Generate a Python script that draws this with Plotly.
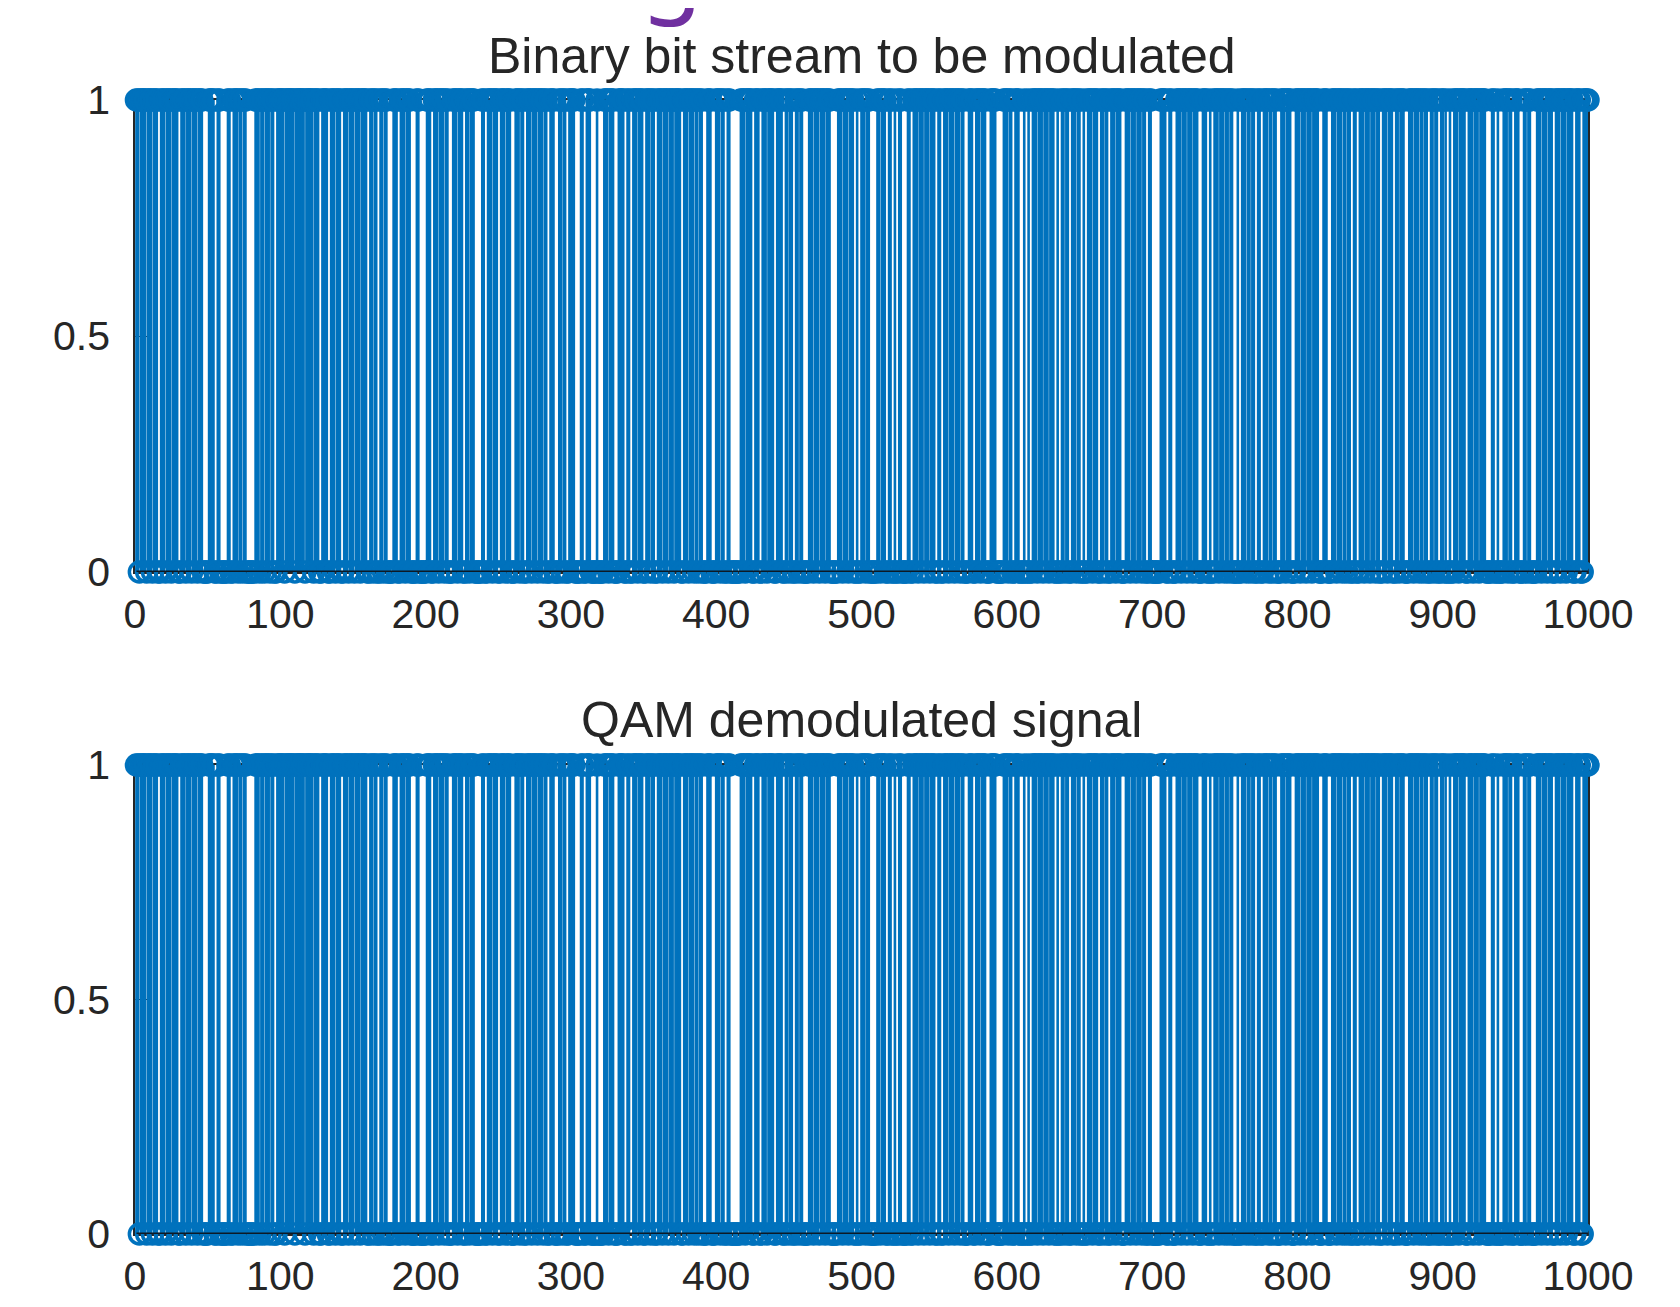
import plotly.graph_objects as go
from plotly.subplots import make_subplots

# ---------------- data ----------------
n_bits = 1000
# runs of zeros (1-based, inclusive) visible as light/white gaps in the stems
zero_runs = [
    (16, 17), (30, 31), (47, 50), (55, 56), (59, 63), (66, 67), (77, 82), (96, 97),
    (127, 128), (133, 134), (142, 143), (160, 161), (167, 168), (174, 177), (181, 182),
    (190, 193), (196, 200), (204, 205), (216, 218), (226, 227), (234, 238), (241, 242),
    (250, 251), (259, 261), (268, 269), (284, 285), (289, 291), (297, 298), (303, 306),
    (309, 310), (314, 317), (319, 322), (330, 332), (337, 338), (341, 342), (350, 351),
    (358, 359), (376, 377), (391, 393), (397, 399), (406, 407), (410, 416), (425, 426),
    (430, 431), (440, 441), (446, 447), (453, 454), (460, 463), (479, 483), (495, 496),
    (498, 499), (506, 510), (517, 518), (521, 522), (524, 525), (528, 531), (534, 535),
    (551, 552), (555, 556), (571, 573), (577, 578), (586, 588), (593, 597), (604, 605),
    (609, 611), (613, 614), (616, 617), (633, 634), (636, 637), (643, 644), (651, 652),
    (654, 655), (663, 664), (670, 671), (679, 681), (696, 697), (700, 705), (710, 711),
    (714, 716), (732, 734), (738, 739), (741, 742), (756, 758), (760, 761), (771, 772),
    (775, 776), (786, 788), (796, 798), (815, 817), (821, 823), (837, 838), (841, 842),
    (857, 858), (866, 867), (874, 876), (890, 891), (897, 898), (901, 901), (903, 904),
    (906, 907), (916, 917), (930, 933), (936, 937), (939, 941), (948, 949), (953, 955),
    (961, 964), (976, 977), (990, 991), (995, 996),
]
# isolated zeros hidden under neighbouring stems (estimated from the solid band of
# circles along y = 0)
single_zeros = [
    3, 8, 12, 21, 25, 35, 39, 43, 71, 74, 86, 89, 93, 103, 110, 117, 123, 138, 147, 151,
    155, 164, 171, 186, 209, 213, 222, 230, 246, 255, 265, 273, 277, 281, 294, 326, 346,
    355, 363, 367, 371, 381, 385, 388, 403, 420, 435, 450, 457, 467, 471, 475, 487, 491,
    503, 513, 539, 543, 547, 560, 564, 568, 582, 601, 621, 625, 629, 640, 648, 659, 667,
    675, 685, 689, 693, 720, 724, 728, 746, 750, 753, 765, 768, 780, 783, 792, 802, 806,
    810, 827, 831, 834, 846, 850, 854, 862, 870, 880, 884, 887, 894, 911, 921, 925, 945,
    958, 968, 972, 981, 985,
]
tx_bits = [1] * n_bits
for a, b in zero_runs:
    for i in range(a, b + 1):
        tx_bits[i - 1] = 0
for i in single_zeros:
    tx_bits[i - 1] = 0
rx_bits = list(tx_bits)  # demodulated signal equals the transmitted stream

x_tick_vals = [0, 100, 200, 300, 400, 500, 600, 700, 800, 900, 1000]
y_tick_vals = [0, 0.5, 1]
y_tick_text = ["0", "0.5", "1"]
panel_titles = ["Binary bit stream to be modulated", "QAM demodulated signal"]

# ---------------- styling ----------------
BLUE = "#0072BD"
TXT = "#262626"
FONT = "Liberation Sans, Arial, sans-serif"
OFF = 8                      # the page body has an 8 px margin
W, H = 1680 - OFF, 1307 - OFF
L, R = 135 - OFF, 92

fig = make_subplots(rows=2, cols=1)


def add_stem(bits, row):
    idx = list(range(1, len(bits) + 1))
    xs, ys = [], []
    for i, b in zip(idx, bits):
        if b:
            xs += [i, i, None]
            ys += [0, b, None]
    fig.add_trace(go.Scatter(x=xs, y=ys, mode="lines",
                             line=dict(color=BLUE, width=2.6),
                             hoverinfo="skip", showlegend=False,
                             cliponaxis=False), row=row, col=1)
    fig.add_trace(go.Scatter(x=idx, y=bits, mode="markers",
                             marker=dict(symbol="circle-open", size=20,
                                         color=BLUE, line=dict(width=3.5, color=BLUE)),
                             showlegend=False, cliponaxis=False), row=row, col=1)
    fig.add_trace(go.Scatter(x=[1, len(bits)], y=[0, 0], mode="lines",
                             line=dict(color="#0d1a26", width=3),
                             hoverinfo="skip", showlegend=False,
                             cliponaxis=False), row=row, col=1)


add_stem(tx_bits, 1)
add_stem(rx_bits, 2)

axis_common = dict(showline=True, mirror=True, linecolor=TXT, linewidth=1.5,
                   ticks="inside", ticklen=12, tickcolor=TXT, showgrid=False,
                   zeroline=False, automargin=False, layer="below traces",
                   tickfont=dict(family=FONT, size=41, color=TXT))

# pixel positions (in the window) of the plot areas
top_y = (100, 572)
bot_y = (765, 1234)


def dom(p):
    return [1 - (p[1] - OFF) / H, 1 - (p[0] - OFF) / H]


for r, py in ((1, top_y), (2, bot_y)):
    fig.update_xaxes(range=[0, 1000], tickvals=x_tick_vals, ticklabelstandoff=5,
                     domain=[0, 1], row=r, col=1, **axis_common)
    fig.update_yaxes(range=[0, 1], tickvals=y_tick_vals, ticktext=y_tick_text,
                     ticklabelstandoff=15, domain=dom(py), row=r, col=1, **axis_common)

annotations = []
for title, yc in zip(panel_titles, (56, 720)):
    annotations.append(dict(text=title, xref="paper", yref="paper",
                            x=0.5, y=1 - (yc - OFF) / H, xanchor="center", yanchor="middle",
                            showarrow=False,
                            font=dict(family=FONT, size=50, color=TXT)))
# cropped slide-title letter at the very top
annotations.append(dict(text="g", xref="paper", yref="paper",
                        x=(664 - L) / (W - L - R), y=1 - 26 / H,
                        xanchor="center", yanchor="bottom", showarrow=False,
                        font=dict(family="Noto Sans, sans-serif", size=100, color="#7030A0")))

fig.update_layout(width=W, height=H, margin=dict(l=L, r=R, t=0, b=0, autoexpand=False),
                  paper_bgcolor="white", plot_bgcolor="white",
                  annotations=annotations, showlegend=False)

fig.write_html("out.html")
